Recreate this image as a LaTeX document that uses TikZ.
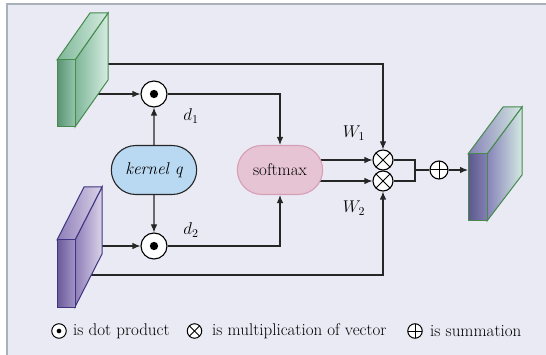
\documentclass[tikz,border=0pt]{standalone}
\usepackage{fix-cm}
\usetikzlibrary{arrows.meta,shapes.misc,backgrounds}
\definecolor{bgfill}{HTML}{EAEAF4}
\definecolor{bgline}{HTML}{A9B0B9}
\definecolor{gF1}{HTML}{5A9373}
\definecolor{gF2}{HTML}{94C4AA}
\definecolor{gS1}{HTML}{7DB697}
\definecolor{gS2}{HTML}{D6ECE1}
\definecolor{gB}{HTML}{468A4E}
\definecolor{pF1}{HTML}{6A5A9A}
\definecolor{pF2}{HTML}{A193C4}
\definecolor{pS1}{HTML}{8E7DB8}
\definecolor{pS2}{HTML}{DAD3E8}
\definecolor{pB}{HTML}{3F3580}
\definecolor{oF1}{HTML}{5C588C}
\definecolor{oF2}{HTML}{847FB2}
\definecolor{oS1}{HTML}{8683B7}
\definecolor{oS2}{HTML}{D4E8E3}
\definecolor{kfill}{HTML}{B9D8F2}
\definecolor{sfill}{HTML}{E6C4D4}
\definecolor{sline}{HTML}{D59FB5}
\tikzset{
  conn/.style={line width=1.1pt, draw=black!85},
  arr/.style={conn, -{Latex[length=8pt,width=6.5pt]}},
  opcirc/.style={circle, draw, line width=1.1pt, fill=white, inner sep=0pt},
  dotop/.style={opcirc, minimum size=#1,
    path picture={\fill[black] (path picture bounding box.center) circle (0.16*#1);}},
  crossop/.style={opcirc, minimum size=#1,
    path picture={\draw[black, line width=1pt] (path picture bounding box.south west) -- (path picture bounding box.north east)
      (path picture bounding box.north west) -- (path picture bounding box.south east);}},
  plusop/.style={opcirc, minimum size=#1,
    path picture={\draw[black, line width=1pt] (path picture bounding box.west) -- (path picture bounding box.east)
      (path picture bounding box.north) -- (path picture bounding box.south);}},
  pill/.style={rounded rectangle, minimum width=92pt, minimum height=49pt, line width=1.1pt,
    font=\fontsize{17}{20}\selectfont},
  lbl/.style={font=\fontsize{17}{20}\selectfont, inner sep=0pt},
  blockline/.style={line width=1pt}
}
\begin{document}
\begin{tikzpicture}[x=1pt,y=-1pt]
\useasboundingbox (0,0) rectangle (546,355);
\begin{scope}[on background layer]
\fill[white] (0,0) rectangle (546,355);
\fill[bgfill] (7,4) rectangle (546,355);
\draw[bgline, line width=2pt] (7,355) -- (7,4) -- (546,4);
\end{scope}

% green input block
\shade[left color=gS1, right color=gS2, draw=gB, blockline] (75,60) -- (108,13) -- (108,80) -- (75,127) -- cycle;
\shade[left color=gS1, right color=gS2, draw=gB, blockline] (57,60) -- (90,13) -- (108,13) -- (75,60) -- cycle;
\shade[left color=gF1, right color=gF2, draw=gB, blockline] (57,60) rectangle (75,127);
% purple input block
\shade[left color=pS1, right color=pS2, draw=pB, blockline] (75,240) -- (102,187) -- (102,254) -- (75,307) -- cycle;
\shade[left color=pS1, right color=pS2, draw=pB, blockline] (57,240) -- (84,187) -- (102,187) -- (75,240) -- cycle;
\shade[left color=pF1, right color=pF2, draw=pB, blockline] (57,240) rectangle (75,307);
% output block
\shade[left color=oS1, right color=oS2, draw=gB, blockline] (487,154) -- (522,107) -- (522,175) -- (487,221) -- cycle;
\shade[left color=oS1, right color=oS2, draw=gB, blockline] (468,154) -- (503,107) -- (522,107) -- (487,154) -- cycle;
\shade[left color=oF1, right color=oF2, draw=gB, blockline] (468,154) rectangle (487,221);

\coordinate (g1) at (108,64);
\coordinate (g2) at (98,94);
\coordinate (p1) at (102,246);
\coordinate (p2) at (91,275);
\coordinate (out) at (468,170);
\coordinate (j) at (415,170);

\node[dotop=26pt] (dot1) at (154,94) {};
\node[dotop=26pt] (dot2) at (154,246) {};
\node[pill, draw=black!85, fill=kfill] (kq) at (154,170) {\itshape kernel q};
\node[pill, draw=sline, fill=sfill] (sm) at (280,170) {softmax};
\node[crossop=20pt] (x1) at (383,160) {};
\node[crossop=20pt] (x2) at (383,181) {};
\node[plusop=18pt] (pl) at (439,170) {};

\node[lbl] (d1) at (191,116) {$d_1$};
\node[lbl] (d2) at (191,230) {$d_2$};
\node[lbl] (w1) at (354,133) {$W_1$};
\node[lbl] (w2) at (354,208) {$W_2$};

\begin{scope}[on background layer]
\draw[arr] (g2) -- (dot1);
\draw[arr] (p1) -- (dot2);
\draw[arr] (kq) -- (dot1);
\draw[arr] (kq) -- (dot2);
\draw[arr] (dot1) -| (sm);
\draw[arr] (dot2) -| (sm);
\draw[arr] (g1) -| (x1);
\draw[arr] (p2) -| (x2);
\draw[arr] ([xshift=-6pt]sm.east |- x1) -- (x1);
\draw[arr] ([xshift=-6pt]sm.east |- x2) -- (x2);
\draw[conn] (x1.east) -| (j) |- (x2.east);
\draw[conn] (j) -- (pl);
\draw[arr] (pl) -- (out);
\end{scope}

% legend
\node[dotop=14.5pt, line width=1pt] (ld) at (59,331) {};
\node[lbl, anchor=west] (ldt) at (73,331) {is dot product};
\node[crossop=14.5pt, line width=1pt] (lx) at (194.5,331) {};
\node[lbl, anchor=west] (lxt) at (212,331) {is multiplication of vector};
\node[plusop=14.5pt, line width=1pt] (lp) at (415,331) {};
\node[lbl, anchor=west] (lpt) at (430,331) {is summation};
\end{tikzpicture}
\end{document}
